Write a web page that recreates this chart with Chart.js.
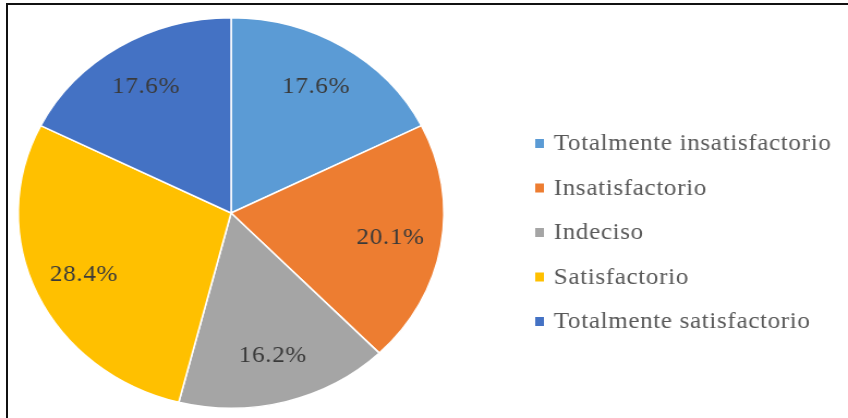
<!DOCTYPE html>
<html>
<head>
<meta charset="utf-8">
<script src="https://cdn.jsdelivr.net/npm/chart.js@4/dist/chart.umd.min.js"></script>
<style>
  html, body { margin: 0; padding: 0; background: #fff; }
  #frame { position: absolute; left: 6px; top: 3px; width: 842px; height: 415px;
           border-top: 2px solid #111; border-left: 2px solid #111; box-sizing: border-box; }
  /* chart is drawn a bit narrower and stretched to full width */
  #wrap { position: absolute; left: 0; top: 0; width: 778px; height: 418px;
          transform: scaleX(1.09); transform-origin: 0 0; }
</style>
</head>
<body>
<div id="wrap"><canvas id="pieChart" width="778" height="418"></canvas></div>
<div id="frame"></div>
<script>
//  -- Chart.js Script --

    const categories = ['Totalmente insatisfactorio', 'Insatisfactorio', 'Indeciso', 'Satisfactorio', 'Totalmente satisfactorio'];
    const percents = [17.6, 20.1, 16.2, 28.4, 17.6];
    const colors = ['#5B9BD5', '#ED7D31', '#A5A5A5', '#FFC000', '#4472C4'];

    const serif = '"Liberation Serif", "Times New Roman", serif';

    // percentage text inside each slice
    const sliceLabels = {
      id: 'sliceLabels',
      afterDatasetsDraw(chart) {
        const ctx = chart.ctx;
        const meta = chart.getDatasetMeta(0);
        ctx.save();
        ctx.font = '23px ' + serif;
        ctx.letterSpacing = '0.6px';
        ctx.fillStyle = '#3a3a3a';
        ctx.textAlign = 'center';
        ctx.textBaseline = 'middle';
        meta.data.forEach((arc, i) => {
          const p = arc.getProps(['x', 'y', 'startAngle', 'endAngle', 'outerRadius']);
          const mid = (p.startAngle + p.endAngle) / 2;
          const r = p.outerRadius * 0.76;
          ctx.fillText(percents[i].toFixed(1) + '%', p.x + Math.cos(mid) * r, p.y + Math.sin(mid) * r);
        });
        ctx.restore();
      }
    };

    // legend on the right
    const sideLegend = {
      id: 'sideLegend',
      afterDraw(chart) {
        const ctx = chart.ctx;
        const x = 491, y0 = 143, step = 44.5, box = 8;
        ctx.save();
        ctx.font = '23px ' + serif;
        ctx.letterSpacing = '0.6px';
        ctx.textBaseline = 'middle';
        categories.forEach((name, i) => {
          const y = y0 + i * step;
          ctx.fillStyle = colors[i];
          ctx.fillRect(x, y - box / 2, box, box + 1);
          ctx.fillStyle = '#595959';
          ctx.fillText(name, x + 17, y + 1);
        });
        ctx.restore();
      }
    };

    new Chart(document.getElementById('pieChart').getContext('2d'), {
      type: 'pie',
      data: {
        labels: categories,
        datasets: [{
          data: percents,
          backgroundColor: colors,
          borderColor: '#ffffff',
          borderWidth: 1.5
        }]
      },
      options: {
        responsive: false,
        animation: false,
        layout: { padding: { left: 16, top: 17, right: 370, bottom: 9 } },
        plugins: { legend: { display: false }, tooltip: { enabled: false } }
      },
      plugins: [sliceLabels, sideLegend]
    });
</script>
</body>
</html>
